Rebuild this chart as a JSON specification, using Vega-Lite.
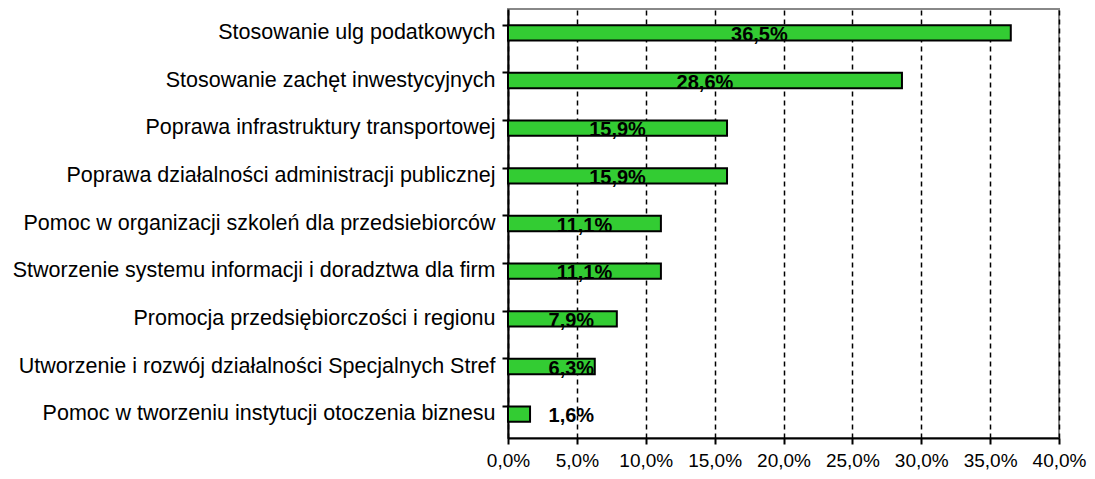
{
  "$schema": "https://vega.github.io/schema/vega-lite/v6.json",
  "autosize": {"type": "none"},
  "padding": {"left": 508, "top": 9, "right": 36, "bottom": 41},
  "width": 551,
  "height": 429,
  "background": "white",
  "config": {
    "font": "Liberation Sans",
    "view": {"stroke": "#888888", "strokeWidth": 2}
  },
  "data": {
    "values": [
      {"cat": "Stosowanie ulg podatkowych", "v": 0.365},
      {"cat": "Stosowanie zachęt inwestycyjnych", "v": 0.286},
      {"cat": "Poprawa infrastruktury transportowej", "v": 0.159},
      {"cat": "Poprawa działalności administracji publicznej", "v": 0.159},
      {"cat": "Pomoc w organizacji szkoleń dla przedsiebiorców", "v": 0.111},
      {"cat": "Stworzenie systemu informacji i doradztwa dla firm", "v": 0.111},
      {"cat": "Promocja przedsiębiorczości i regionu", "v": 0.079},
      {"cat": "Utworzenie i rozwój działalności Specjalnych Stref", "v": 0.063},
      {"cat": "Pomoc w tworzeniu instytucji otoczenia biznesu", "v": 0.016}
    ]
  },
  "transform": [
    {"calculate": "max(datum.v / 2, 0.046)", "as": "mid"},
    {"calculate": "replace(format(datum.v, '.1%'), '.', ',')", "as": "lbl"}
  ],
  "encoding": {
    "y": {
      "field": "cat",
      "type": "nominal",
      "sort": null,
      "scale": {"paddingInner": 0.68, "paddingOuter": 0.34},
      "axis": {
        "title": null,
        "bandPosition": 0,
        "tickSize": 6,
        "tickColor": "black",
        "tickWidth": 2,
        "domainColor": "black",
        "domainWidth": 2,
        "labelFontSize": 21.5,
        "labelColor": "black",
        "labelPadding": 7,
        "labelLimit": 600,
        "grid": false
      }
    }
  },
  "layer": [
    {
      "mark": {"type": "bar", "color": "#33CC33", "stroke": "black", "strokeWidth": 2},
      "encoding": {
        "x": {
          "field": "v",
          "type": "quantitative",
          "scale": {"domain": [0, 0.4], "nice": false},
          "axis": {
            "title": null,
            "values": [0, 0.05, 0.1, 0.15, 0.2, 0.25, 0.3, 0.35, 0.4],
            "labelExpr": "replace(format(datum.value, '.1%'), '.', ',')",
            "labelFontSize": 19,
            "labelColor": "black",
            "labelPadding": 7,
            "labelOverlap": false,
            "labelFlush": false,
            "tickSize": 6,
            "tickColor": "black",
            "tickWidth": 2,
            "domainColor": "black",
            "domainWidth": 2,
            "grid": true,
            "gridColor": "black",
            "gridWidth": 1.5,
            "gridDash": [5, 4],
            "gridOpacity": 1
          }
        }
      }
    },
    {
      "mark": {"type": "text", "fontWeight": "bold", "fontSize": 20, "color": "black", "baseline": "middle", "dy": 2},
      "encoding": {
        "x": {"field": "mid", "type": "quantitative"},
        "text": {"field": "lbl"}
      }
    }
  ]
}
